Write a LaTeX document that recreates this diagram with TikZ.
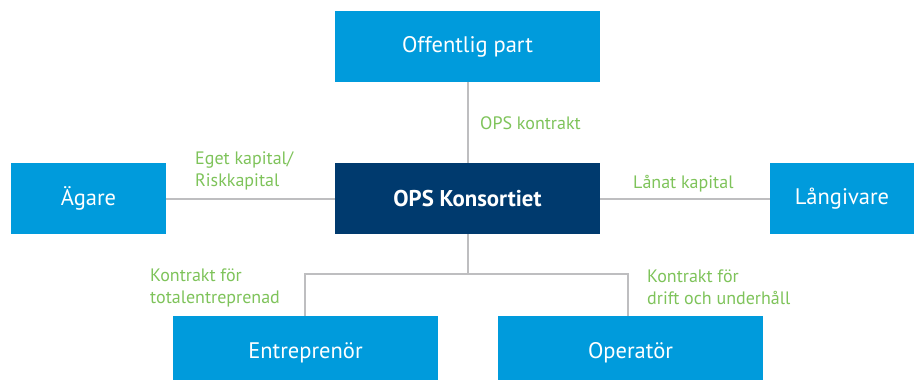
\documentclass[tikz,border=0pt]{standalone}
\usepackage{fontspec}
\setmainfont{PT Sans}
\definecolor{boxblue}{RGB}{0,155,220}
\definecolor{navy}{RGB}{0,58,110}
\definecolor{lbl}{RGB}{126,195,90}
\definecolor{conn}{RGB}{190,190,192}
\tikzset{
  bx/.style={fill=boxblue, text=white, inner sep=0pt, font=\fontsize{22.5}{26}\selectfont},
  main/.style={fill=navy, text=white, inner sep=0pt, font=\bfseries\fontsize{22.8}{26}\selectfont},
  lab/.style={text=lbl, inner sep=0pt, anchor=west, align=left, font=\fontsize{18}{22}\selectfont},
  cn/.style={draw=conn, line width=2pt},
}
\begin{document}
\begin{tikzpicture}[x=1pt,y=-1pt]
\useasboundingbox (0,0) rectangle (914,380);
\node[bx, minimum width=265pt, minimum height=71pt] (off) at (467.5,46.5) {Offentlig part};
\node[main, minimum width=265pt, minimum height=71pt] (ops) at (467.5,198.5) {OPS Konsortiet};
\node[bx, minimum width=155pt, minimum height=71pt] (aga) at (88.5,198.5) {Ägare};
\node[bx, minimum width=144pt, minimum height=71pt] (lang) at (842,198.5) {Långivare};
\node[bx, minimum width=265pt, minimum height=64pt] (ent) at (305.5,348) {};
\node[bx, minimum width=265pt, minimum height=64pt] (opr) at (630.5,348) {};
\node[bx, fill=none] (entt) at (305.5,353) {Entreprenör};
\node[bx, fill=none] (oprt) at (630.5,353) {Operatör};
\coordinate (br) at (467.5,274);
\draw[cn] (off.south) -- (ops.north);
\draw[cn] (aga.east) -- (ops.west);
\draw[cn] (ops.east) -- (lang.west);
\draw[cn] (ops.south) -- (br);
\draw[cn] (ent.north -| 305,0) |- (br) -| (opr.north -| 628,0);
\node[lab] (l1) at (480,123.5) {OPS kontrakt};
\node[lab] (l2) at (195,171) {Eget kapital/\\Riskkapital};
\node[lab] (l3) at (633,184) {Lånat kapital};
\node[lab] (l4) at (150,288) {Kontrakt för\\totalentreprenad};
\node[lab] (l5) at (647,287) {Kontrakt för\\drift och underhåll};
\end{tikzpicture}
\end{document}
